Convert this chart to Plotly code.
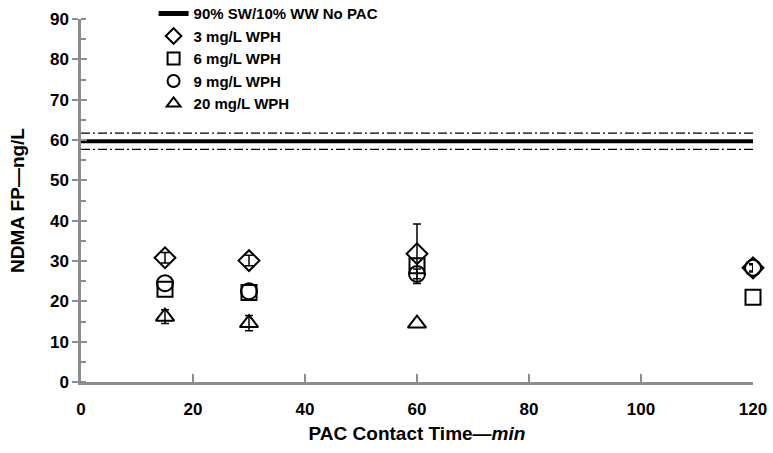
import plotly.graph_objects as go

# PAC contact time (min) and NDMA formation potential (ng/L)
times = [15, 30, 60, 120]
wph3 = [30.8, 30.1, 31.8, 28.3]
wph3_err = [1.3, 1.3, 7.4, 1.0]
wph6 = [23.0, 22.2, 28.8, 21.0]
wph6_err = [None, None, None, None]
wph9 = [24.5, 22.5, 26.8, 28.3]
wph9_err = [None, None, 1.2, 0.8]
times20 = [15, 30, 60]
wph20 = [16.2, 14.6, 14.5]
wph20_err = [1.7, 1.9, None]

# Baseline without PAC: mean and spread
baseline = 59.7
baseline_sd = 2.0
x_span = [0, 120]

FONT = "Liberation Sans, Arial, sans-serif"
AXIS_GREY = "#8c8c8c"

fig = go.Figure()

# Baseline mean (solid) and its bounds (dash-dot)
fig.add_trace(go.Scatter(
    x=x_span, y=[baseline, baseline], mode="lines",
    line=dict(color="black", width=4),
    name="<b>90% SW/10% WW No PAC</b>"))
for off in (baseline_sd, -baseline_sd):
    fig.add_trace(go.Scatter(
        x=x_span, y=[baseline + off] * 2, mode="lines",
        line=dict(color="black", width=1.3, dash="9px,3px,2px,3px"),
        showlegend=False, hoverinfo="skip"))

series = [
    ("<b>3 mg/L WPH</b>", times, wph3, wph3_err, "diamond-open", 16),
    ("<b>6 mg/L WPH</b>", times, wph6, wph6_err, "square-open", 15),
    ("<b>9 mg/L WPH</b>", times, wph9, wph9_err, "circle-open", 16),
    ("<b>20 mg/L WPH</b>", times20, wph20, wph20_err, "triangle-up-open", 16),
]
for name, xs, ys, errs, sym, size in series:
    fig.add_trace(go.Scatter(
        x=xs, y=ys, mode="markers", name=name,
        marker=dict(symbol=sym, size=size, color="black",
                    line=dict(color="black", width=2)),
        cliponaxis=False))
    # Error bars only where a replicate spread was measured
    keep = [i for i, e in enumerate(errs) if e is not None]
    if keep:
        fig.add_trace(go.Scatter(
            x=[xs[i] for i in keep], y=[ys[i] for i in keep],
            mode="markers", marker=dict(size=1, opacity=0),
            error_y=dict(type="data", array=[errs[i] for i in keep],
                         color="black", thickness=1.5, width=4),
            showlegend=False, hoverinfo="skip", cliponaxis=False))

tickfont = dict(family=FONT, size=17, color="black", weight="bold")
titlefont = dict(family=FONT, size=19, color="black", weight="bold")

fig.update_layout(
    width=773, height=453,
    margin=dict(l=81, r=20, t=19, b=71, autoexpand=False),
    plot_bgcolor="white", paper_bgcolor="white",
    showlegend=True,
    legend=dict(x=0.108, y=1.06, xanchor="left", yanchor="top",
                bgcolor="rgba(0,0,0,0)", borderwidth=0,
                font=dict(family=FONT, size=15, color="black",
                          weight="bold"),
                itemwidth=30, itemsizing="constant", tracegroupgap=0),
    xaxis=dict(
        range=[0, 120], tickvals=[0, 20, 40, 60, 80, 100, 120],
        ticktext=[f"<b>{v}</b>" for v in [0, 20, 40, 60, 80, 100, 120]],
        tickfont=tickfont, showgrid=False, zeroline=False,
        showline=True, linecolor=AXIS_GREY, linewidth=2.5,
        ticks="inside", ticklen=8, tickwidth=2, tickcolor=AXIS_GREY,
        ticklabelstandoff=10,
        title=dict(text="<b>PAC Contact Time—<i>min</i></b>",
                   font=titlefont, standoff=9)),
    yaxis=dict(
        range=[0, 90], tickvals=list(range(0, 91, 10)),
        ticktext=[f"<b>{v}</b>" for v in range(0, 91, 10)],
        tickfont=tickfont, showgrid=False, zeroline=False,
        showline=True, linecolor=AXIS_GREY, linewidth=2.5,
        ticks="outside", ticklen=6, tickwidth=2, tickcolor=AXIS_GREY,
        minor=dict(dtick=5, ticks="inside", ticklen=5, tickwidth=2,
                   tickcolor=AXIS_GREY, showgrid=False),
        title=dict(text="<b>NDMA FP—ng/L</b>",
                   font=titlefont, standoff=21)),
    # Overlaid axis supplying the inner half of the major y ticks
    yaxis2=dict(
        overlaying="y", matches="y", side="left", showline=False,
        tickvals=list(range(0, 91, 10)), showticklabels=False,
        ticks="inside", ticklen=6, tickwidth=2, tickcolor=AXIS_GREY,
        showgrid=False, zeroline=False),
)

# Invisible trace to activate the overlaid axis
fig.add_trace(go.Scatter(x=[0], y=[0], yaxis="y2", mode="markers",
                         marker=dict(opacity=0), showlegend=False,
                         hoverinfo="skip"))

fig.write_html("out.html")
